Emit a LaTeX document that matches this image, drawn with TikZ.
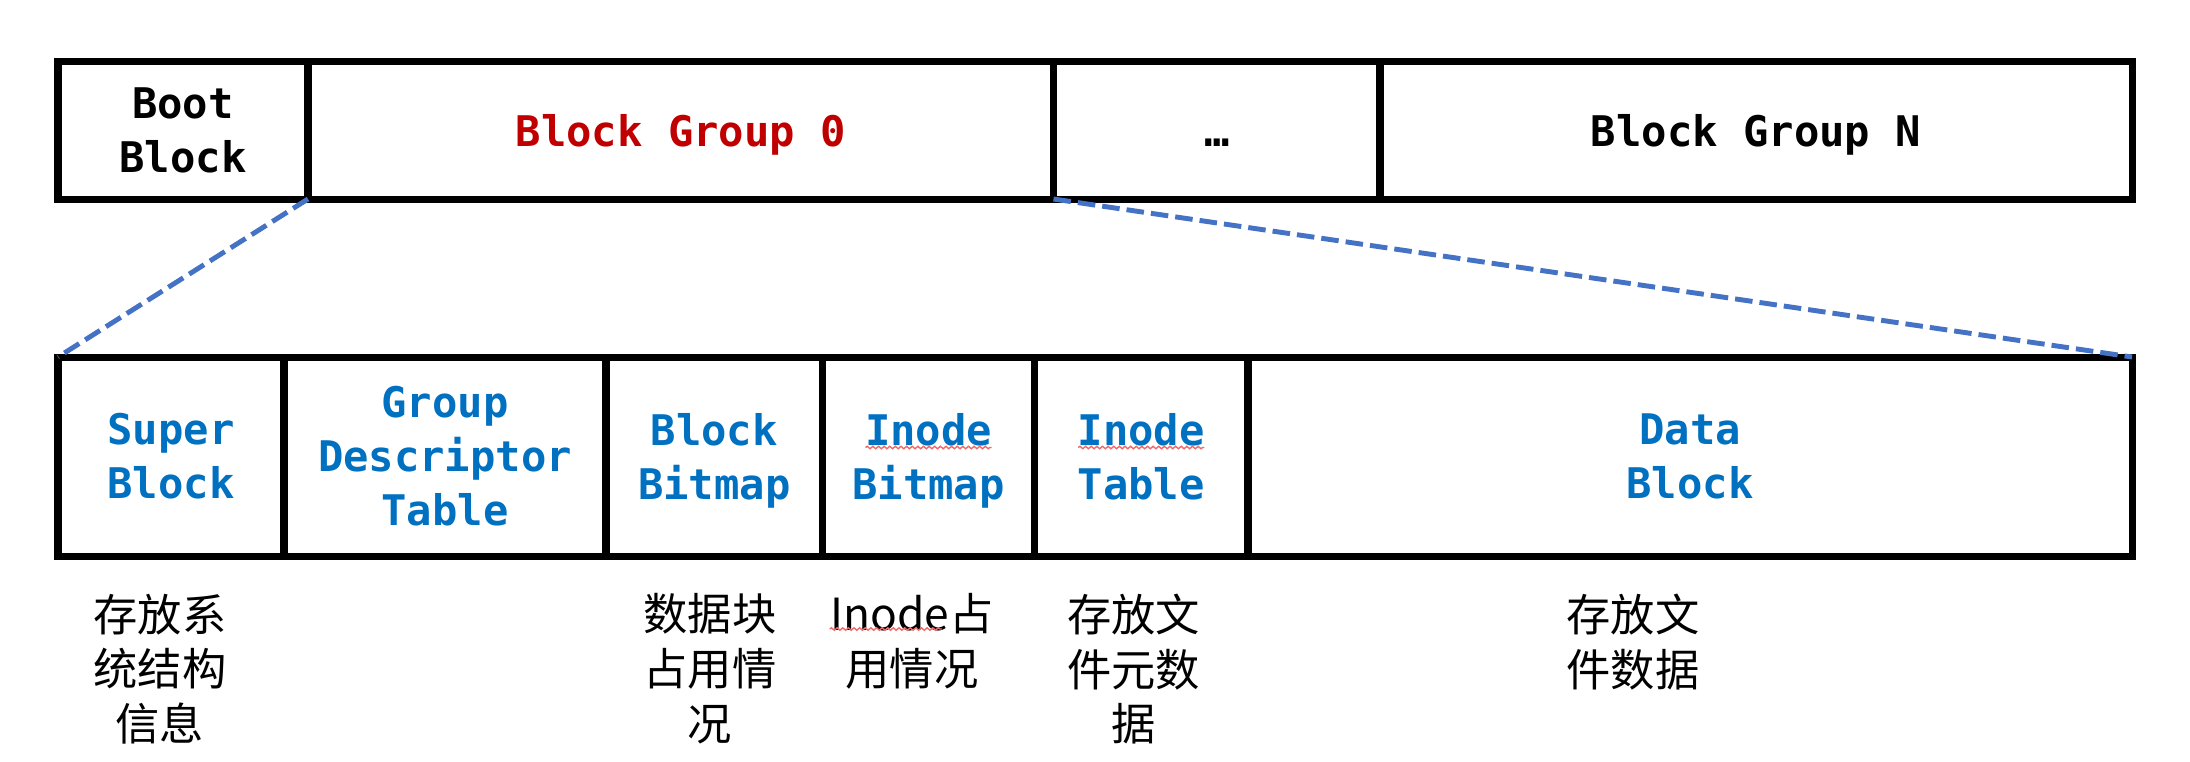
\documentclass[tikz,border=0pt]{standalone}
\usepackage{fontspec}
\usepackage{xcolor}
\usepackage{tikz}
\usetikzlibrary{positioning,decorations.pathmorphing}
\newfontfamily\codefont{DejaVu Sans Mono}
\newfontfamily\cjkfont{Noto Sans CJK SC}
\definecolor{bgred}{HTML}{C00000}
\definecolor{fieldblue}{HTML}{0070C0}
\definecolor{zoomblue}{HTML}{4472C4}
\definecolor{wavered}{HTML}{F06A6A}
\tikzset{
  cell/.style={draw, line width=2pt, outer sep=0pt, inner sep=0pt, align=center,
    font=\codefont\bfseries\fontsize{12}{15.4}\selectfont},
  diskcell/.style={cell, minimum height=1.38cm},
  oneline/.style={text height=9.6pt, text depth=0pt},
  groupcell/.style={cell, minimum height=1.99cm, text=fieldblue},
  note/.style={anchor=north, inner sep=0pt, align=center,
    font=\cjkfont\fontsize{12.6}{15.6}\selectfont},
  zoomline/.style={zoomblue, line width=1.4pt, dash pattern=on 5pt off 2pt},
  squiggle/.style={wavered, line width=0.4pt, decorate,
    decoration={snake, amplitude=0.35pt, segment length=1.6pt}},
}

\begin{document}
\begin{tikzpicture}
        \useasboundingbox (0,0) rectangle (21.9,-7.61);

        \node[diskcell, minimum width=2.5cm] (boot) at (1.83,-1.30) {Boot\\Block};
        \node[diskcell, oneline, minimum width=7.455cm, right=0pt of boot, text=bgred] (bg0) {Block Group 0};
        \node[diskcell, oneline, minimum width=3.265cm, right=0pt of bg0] (dots) {…};
        \node[diskcell, oneline, minimum width=7.52cm, right=0pt of dots] (bgn) {Block Group N};

        \node[groupcell, minimum width=2.26cm] (super) at (1.71,-4.565) {Super\\Block};
        \node[groupcell, minimum width=3.22cm, right=0pt of super] (gdt) {Group\\Descriptor\\Table};
        \node[groupcell, minimum width=2.165cm, right=0pt of gdt] (bbmp) {Block\\\smash{Bitmap}};
        \node[groupcell, minimum width=2.12cm, right=0pt of bbmp] (ibmp) {Inode\\\smash{Bitmap}};
        \node[groupcell, minimum width=2.135cm, right=0pt of ibmp] (itab) {Inode\\Table};
        \node[groupcell, minimum width=8.84cm, right=0pt of itab] (data) {Data\\Block};

        \draw[zoomline] (bg0.south west) -- (super.north west);
        \draw[zoomline] (bg0.south east) -- (data.north east);

        \node[note] (supernote) at (1.60,-5.93) {存放系\\统结构\\信息};
        \node[note] (bbmpnote) at (7.10,-5.93) {数据块\\占用情\\况};
        \node[note] (ibmpnote) at (9.12,-5.93) {Inode占\\用情况};
        \node[note] (itabnote) at (11.335,-5.93) {存放文\\件元数\\据};
        \node[note] (datanote) at (16.33,-5.93) {存放文\\件数据};

        \draw[squiggle] ([shift={(-0.63,0.09)}]ibmp.center) -- ([shift={(0.63,0.09)}]ibmp.center);
        \draw[squiggle] ([shift={(-0.63,0.09)}]itab.center) -- ([shift={(0.63,0.09)}]itab.center);
        \draw[squiggle] ([yshift=-0.36cm]ibmpnote.north west) -- ++(1.12,0);
\end{tikzpicture}
\end{document}
